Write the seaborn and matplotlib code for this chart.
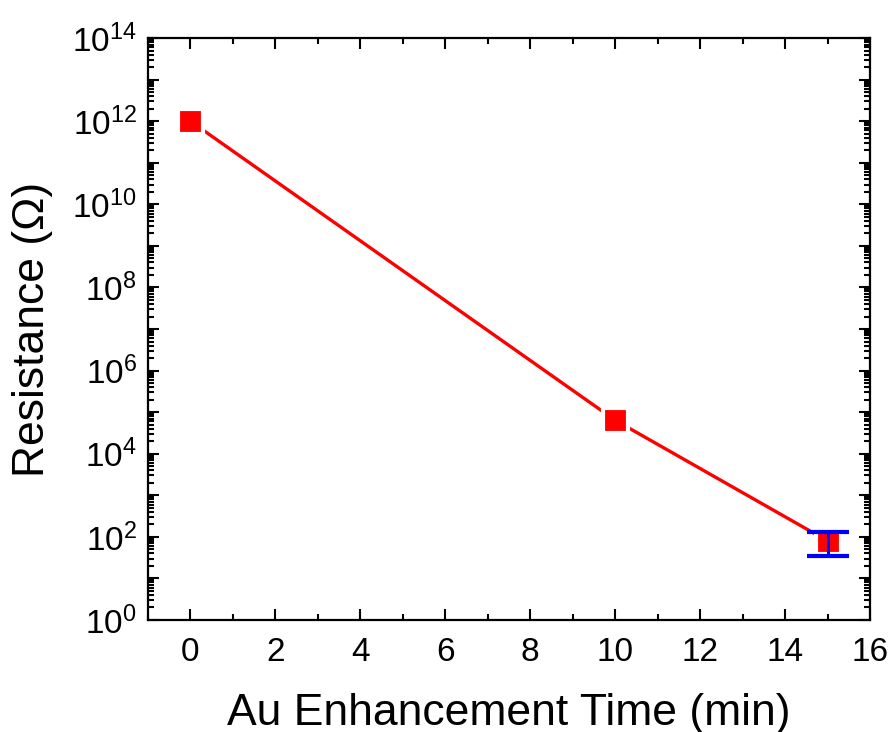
import numpy as np
import pandas as pd
import matplotlib
matplotlib.use("Agg")
import matplotlib.pyplot as plt
import matplotlib.ticker as mticker
import seaborn as sns

# values
time_min = [0, 10, 15]
resistance = [1e12, 6.4e4, 80]
err_time = [15]
err_value = [80]
err_low = [35]
err_high = [131]

sns.set_style("ticks")
plt.rcParams['font.family'] = ['Liberation Sans', 'DejaVu Sans']
plt.rcParams['mathtext.fontset'] = 'custom'
plt.rcParams['mathtext.rm'] = 'Liberation Sans'
plt.rcParams['mathtext.it'] = 'Liberation Sans'
plt.rcParams['text.color'] = 'black'
plt.rcParams['axes.labelcolor'] = 'black'
plt.rcParams['xtick.color'] = 'black'
plt.rcParams['ytick.color'] = 'black'

data = pd.DataFrame({'time': time_min, 'resistance': resistance})

fig = plt.figure(figsize=(8.91, 7.32), dpi=100)
ax = fig.add_axes([0.1661, 0.153, 0.8103, 0.795])

sns.lineplot(data=data, x='time', y='resistance', color='#ff0000',
             linewidth=2.4, ax=ax, zorder=2)
sns.scatterplot(data=data, x='time', y='resistance', marker='s',
                color='#ff0000', s=18**2, edgecolor='white', linewidth=3,
                ax=ax, zorder=3)

# error bar on the last point
lo = np.array(err_value) - np.array(err_low)
hi = np.array(err_high) - np.array(err_value)
ax.errorbar(err_time, err_value, yerr=[lo, hi], fmt='none', ecolor='#0000ff',
            elinewidth=2.2, capsize=15, capthick=3, zorder=4)

ax.set_yscale('log')
ax.set_xlim(-1, 16)
ax.set_ylim(1, 1e14)

ax.xaxis.set_major_locator(mticker.MultipleLocator(2))
ax.xaxis.set_minor_locator(mticker.MultipleLocator(1))
ax.yaxis.set_major_locator(mticker.FixedLocator([10.0**k for k in range(15)]))
ax.yaxis.set_minor_locator(mticker.LogLocator(base=10, subs=np.arange(2, 10), numticks=30))
ax.yaxis.set_minor_formatter(mticker.NullFormatter())


def fmt_y(v, pos):
    k = int(round(np.log10(v)))
    if k % 2:
        return ''
    return r'$10^{%d}$' % k


ax.yaxis.set_major_formatter(mticker.FuncFormatter(fmt_y))

ax.tick_params(which='both', direction='in', top=True, right=True, width=1.5,
               color='black', labelcolor='black')
ax.tick_params(which='major', length=8, labelsize=24)
ax.tick_params(axis='x', which='major', pad=12)
ax.tick_params(axis='y', which='major', pad=8)
ax.tick_params(which='minor', length=4)
for s in ax.spines.values():
    s.set_linewidth(1.6)
    s.set_color('black')

ax.set_xlabel('Au Enhancement Time (min)', fontsize=32, labelpad=18)
ax.set_ylabel('Resistance (\u03a9)', fontsize=32, labelpad=14)

fig.savefig('out.png', dpi=100)
